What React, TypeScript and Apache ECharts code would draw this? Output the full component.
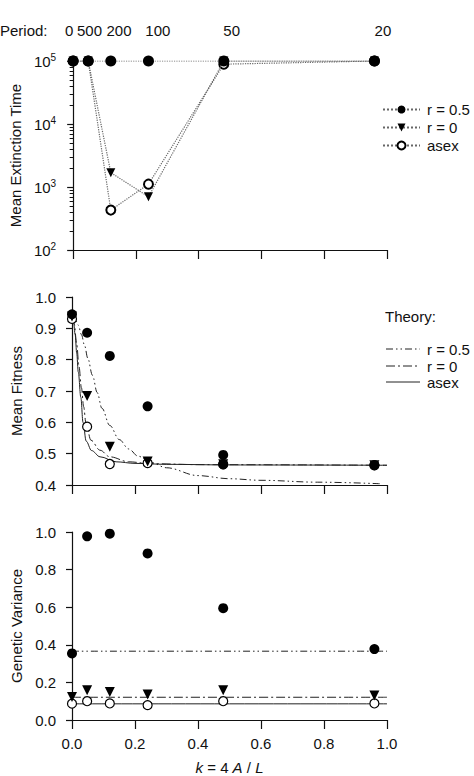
import React, { useEffect, useRef } from "react";
import * as echarts from "echarts";

const FONT = "Arial, 'Liberation Sans', Helvetica, sans-serif";

// x positions of simulations (k = 4A/L)
const kValues = [0, 0.048, 0.12, 0.24, 0.48, 0.96];

// top "Period" axis labels (first label sits at the left edge, the rest follow)
const periodFirstLabel = ["0"];
const periodFirstK = [0];
const periodLabels = ["500", "200", "100", "50", "20"];
const periodLabelK = [0.052, 0.146, 0.27, 0.505, 0.987];

// log axis ticks
const logMajor = [100, 1000, 10000, 100000];
const logMinor = [
  200, 300, 400, 500, 600, 700, 800, 900,
  2000, 3000, 4000, 5000, 6000, 7000, 8000, 9000,
  20000, 30000, 40000, 50000, 60000, 70000, 80000, 90000,
];

// Panel 1: mean extinction time
const extR05 = [100000, 100000, 100000, 100000, 100000, 100000];
const extR0 = [100000, 100000, 1690, 700, 100000, 100000];
const extAsex = [100000, 100000, 430, 1110, 89000, 100000];

// Panel 2: mean fitness (simulation)
const fitR05K = [0, 0.048, 0.12, 0.24, 0.48, 0.48, 0.96];
const fitR05 = [0.945, 0.886, 0.812, 0.651, 0.496, 0.466, 0.463];
const fitR0 = [0.938, 0.684, 0.522, 0.475, 0.466, 0.463];
const fitAsex = [0.93, 0.586, 0.467, 0.47, 0.466, 0.463];

// Panel 2: theory curves
const thR05K = [0, 0.01, 0.02, 0.03, 0.04, 0.05, 0.065, 0.08, 0.095, 0.12, 0.15, 0.18, 0.21, 0.25, 0.3, 0.4, 0.5, 0.6, 0.78, 0.98];
const thR05 = [0.936, 0.93, 0.91, 0.88, 0.845, 0.805, 0.75, 0.695, 0.645, 0.59, 0.545, 0.515, 0.492, 0.472, 0.455, 0.43, 0.42, 0.415, 0.409, 0.404];
const thR0K = [0, 0.007, 0.015, 0.022, 0.03, 0.037, 0.044, 0.06, 0.089, 0.12, 0.18, 0.25, 0.4, 1.0];
const thR0 = [0.936, 0.915, 0.85, 0.78, 0.71, 0.65, 0.6, 0.543, 0.511, 0.49, 0.474, 0.468, 0.465, 0.463];
const thAsexK = [0, 0.005, 0.01, 0.015, 0.02, 0.028, 0.035, 0.045, 0.062, 0.089, 0.14, 0.2, 0.3, 0.5, 1.0];
const thAsex = [0.936, 0.92, 0.88, 0.82, 0.76, 0.68, 0.6, 0.54, 0.51, 0.49, 0.474, 0.469, 0.466, 0.464, 0.463];

// Panel 3: genetic variance (simulation)
const varR05 = [0.354, 0.977, 0.991, 0.886, 0.595, 0.377];
const varR0 = [0.123, 0.158, 0.149, 0.135, 0.158, 0.13];
const varAsex = [0.087, 0.1, 0.088, 0.079, 0.1, 0.088];

// Panel 3: theory levels
const thVarK = [0, 1.0];
const thVarR05 = [0.366, 0.366];
const thVarR0 = [0.121, 0.121];
const thVarAsex = [0.086, 0.086];

const R05_DASH = [7, 3, 1.5, 3, 1.5, 3];
const R0_DASH = [9, 3, 2, 3];

const pairs = (xs: number[], ys: number[]) => xs.map((x, i) => [x, ys[i]]);

const INK = "#111";
const axisLine = { show: true, onZero: false, lineStyle: { color: INK, width: 1.2 } };
const noSplit = { show: false };

function buildOption() {
  const xBottom = (gridIndex: number, withLabels: boolean) => ({
    gridIndex,
    type: "value",
    min: 0,
    max: 1,
    interval: 0.2,
    position: "bottom",
    axisLine,
    axisTick: { show: true, inside: false, length: 9, lineStyle: { color: INK, width: 1.2 } },
    axisLabel: withLabels
      ? { show: true, margin: 16, fontSize: 15, color: INK, fontFamily: FONT, formatter: (v: number) => v.toFixed(1) }
      : { show: false },
    splitLine: noSplit,
  });

  const topLabelAxis = (values: number[], labels: string[], rich?: boolean) => ({
    gridIndex: 0,
    type: "value",
    min: 0,
    max: 1,
    position: "top",
    axisLine: { show: false },
    axisTick: { show: false },
    axisLabel: {
      show: true,
      customValues: values,
      showMinLabel: true,
      showMaxLabel: true,
      margin: 23,
      fontSize: 15,
      color: INK,
      fontFamily: FONT,
      formatter: (v: number, i: number) => {
        const j = values.indexOf(v);
        const t = labels[j >= 0 ? j : i] ?? "";
        return rich ? "{z|" + t + "}" : t;
      },
      rich: { z: { fontSize: 15, color: INK, fontFamily: FONT, padding: [0, 8, 0, 0] } },
    },
    splitLine: noSplit,
  });

  const marker = {
    r05: { symbol: "circle", symbolSize: 10, itemStyle: { color: "#000", opacity: 1 } },
    r0: { symbol: "triangle", symbolRotate: 180, symbolSize: 10, itemStyle: { color: "#000", opacity: 1 } },
    asex: { symbol: "emptyCircle", symbolSize: 9, itemStyle: { color: "#000", borderWidth: 1.2, opacity: 1 } },
  };
  const scatterOpen = {
    symbol: "circle",
    symbolSize: 9,
    itemStyle: { color: "#fff", borderColor: "#000", borderWidth: 1.2, opacity: 1 },
  };

  const dotted = { type: "dotted", color: "#666", width: 1.2 };

  const theoryLine = (name: string, xi: number, yi: number, xs: number[], ys: number[], dash: any) => ({
    type: "line",
    name,
    xAxisIndex: xi,
    yAxisIndex: yi,
    data: pairs(xs, ys),
    symbol: "none",
    smooth: 0.35,
    smoothMonotone: "x",
    z: 1,
    lineStyle: { color: "#222", width: 1, type: dash },
  });

  return {
    animation: false,
    backgroundColor: "#fff",
    textStyle: { fontFamily: FONT },
    grid: [
      { left: 72, top: 61, width: 315, height: 189 },
      { left: 72, top: 297, width: 315, height: 188 },
      { left: 72, top: 532, width: 315, height: 190 },
    ],
    xAxis: [
      xBottom(0, false),
      topLabelAxis(periodLabelK, periodLabels),
      xBottom(1, false),
      {
        ...xBottom(2, true),
        name: "{i|k} = 4 {i|A} / {i|L}",
        nameLocation: "middle",
        nameGap: 40,
        nameTextStyle: {
          fontSize: 15,
          color: INK,
          fontFamily: FONT,
          rich: { i: { fontStyle: "italic", fontSize: 15, color: INK, fontFamily: FONT } },
        },
      },
      topLabelAxis(periodFirstK, periodFirstLabel, true),
    ],
    yAxis: [
      {
        gridIndex: 0,
        type: "log",
        logBase: 10,
        min: 100,
        max: 100000,
        position: "left",
        axisLine,
        axisTick: { show: true, length: 6, customValues: logMajor, lineStyle: { color: INK, width: 1.2 } },
        axisLabel: {
          show: true,
          customValues: logMajor,
          margin: 17,
          color: INK,
          fontFamily: FONT,
          formatter: (v: number) => "{b|10}{s|" + Math.round(Math.log10(v)) + "}",
          rich: {
            b: { fontSize: 15, color: INK, fontFamily: FONT },
            s: { fontSize: 10, color: INK, fontFamily: FONT, verticalAlign: "top", padding: [0, 0, 7, 0] },
          },
        },
        name: "Mean Extinction Time",
        nameLocation: "middle",
        nameGap: 46,
        nameTextStyle: { fontSize: 15, color: INK, fontFamily: FONT },
        splitLine: noSplit,
      },
      {
        gridIndex: 0,
        type: "log",
        logBase: 10,
        min: 100,
        max: 100000,
        position: "left",
        axisLine: { show: false },
        axisTick: { show: true, length: 3.5, customValues: logMinor, lineStyle: { color: INK, width: 1 } },
        axisLabel: { show: false },
        splitLine: noSplit,
      },
      {
        gridIndex: 1,
        type: "value",
        min: 0.4,
        max: 1.0,
        interval: 0.1,
        position: "left",
        axisLine,
        axisTick: { show: true, length: 6, lineStyle: { color: INK, width: 1.2 } },
        axisLabel: { show: true, margin: 16, fontSize: 15, color: INK, fontFamily: FONT, formatter: (v: number) => v.toFixed(1) },
        name: "Mean Fitness",
        nameLocation: "middle",
        nameGap: 46,
        nameTextStyle: { fontSize: 15, color: INK, fontFamily: FONT },
        splitLine: noSplit,
      },
      {
        gridIndex: 2,
        type: "value",
        min: 0,
        max: 1.0,
        interval: 0.2,
        position: "left",
        axisLine,
        axisTick: { show: true, length: 6, lineStyle: { color: INK, width: 1.2 } },
        axisLabel: { show: true, margin: 16, fontSize: 15, color: INK, fontFamily: FONT, formatter: (v: number) => v.toFixed(1) },
        name: "Genetic Variance",
        nameLocation: "middle",
        nameGap: 46,
        nameTextStyle: { fontSize: 15, color: INK, fontFamily: FONT },
        splitLine: noSplit,
      },
    ],
    legend: [
      {
        data: ["r = 0.5", "r = 0", "asex"],
        orient: "vertical",
        left: 377,
        top: 97,
        itemWidth: 37,
        itemHeight: 10,
        itemGap: 3,
        selectedMode: false,
        textStyle: { fontSize: 15, color: INK, fontFamily: FONT, padding: [0, 0, 0, 2] },
      },
    ],
    graphic: [
      {
        type: "text",
        x: 0,
        y: 30,
        style: { text: "Period:", fontSize: 15, fill: INK, fontFamily: FONT, verticalAlign: "middle" },
      },
      {
        type: "text",
        x: 385,
        y: 316,
        style: { text: "Theory:", fontSize: 15, fill: INK, fontFamily: FONT, verticalAlign: "middle" },
      },
      { type: "line", shape: { x1: 386, y1: 349, x2: 420, y2: 349 }, style: { stroke: "#222", lineWidth: 1, lineDash: R05_DASH } },
      { type: "text", x: 427, y: 349, style: { text: "r = 0.5", fontSize: 15, fill: INK, fontFamily: FONT, verticalAlign: "middle" } },
      { type: "line", shape: { x1: 386, y1: 366, x2: 420, y2: 366 }, style: { stroke: "#222", lineWidth: 1, lineDash: R0_DASH } },
      { type: "text", x: 427, y: 366, style: { text: "r = 0", fontSize: 15, fill: INK, fontFamily: FONT, verticalAlign: "middle" } },
      { type: "line", shape: { x1: 386, y1: 382, x2: 420, y2: 382 }, style: { stroke: "#222", lineWidth: 1 } },
      { type: "text", x: 427, y: 382, style: { text: "asex", fontSize: 15, fill: INK, fontFamily: FONT, verticalAlign: "middle" } },
    ],
    series: [
      // Panel 1
      { type: "line", name: "asex", xAxisIndex: 0, yAxisIndex: 0, data: pairs(kValues, extAsex), ...marker.asex, lineStyle: dotted, z: 2 },
      { type: "line", name: "r = 0", xAxisIndex: 0, yAxisIndex: 0, data: pairs(kValues, extR0), ...marker.r0, symbolSize: 9, lineStyle: dotted, z: 3 },
      { type: "line", name: "r = 0.5", xAxisIndex: 0, yAxisIndex: 0, data: pairs(kValues, extR05), ...marker.r05, symbolSize: 11, lineStyle: dotted, z: 4 },
      // Panel 2 theory
      theoryLine("T r = 0.5", 2, 2, thR05K, thR05, R05_DASH),
      theoryLine("T r = 0", 2, 2, thR0K, thR0, R0_DASH),
      theoryLine("T asex", 2, 2, thAsexK, thAsex, "solid"),
      // Panel 2 simulation
      { type: "scatter", name: "asex", xAxisIndex: 2, yAxisIndex: 2, data: pairs(kValues, fitAsex), ...scatterOpen, z: 3 },
      { type: "scatter", name: "r = 0", xAxisIndex: 2, yAxisIndex: 2, data: pairs(kValues, fitR0), ...marker.r0, z: 4 },
      { type: "scatter", name: "r = 0.5", xAxisIndex: 2, yAxisIndex: 2, data: pairs(fitR05K, fitR05), ...marker.r05, z: 5 },
      // Panel 3 theory
      theoryLine("T r = 0.5", 3, 3, thVarK, thVarR05, R05_DASH),
      theoryLine("T r = 0", 3, 3, thVarK, thVarR0, R0_DASH),
      theoryLine("T asex", 3, 3, thVarK, thVarAsex, "solid"),
      // Panel 3 simulation
      { type: "scatter", name: "asex", xAxisIndex: 3, yAxisIndex: 3, data: pairs(kValues, varAsex), ...scatterOpen, z: 3 },
      { type: "scatter", name: "r = 0", xAxisIndex: 3, yAxisIndex: 3, data: pairs(kValues, varR0), ...marker.r0, z: 4 },
      { type: "scatter", name: "r = 0.5", xAxisIndex: 3, yAxisIndex: 3, data: pairs(kValues, varR05), ...marker.r05, z: 5 },
    ],
  };
}

export default function App() {
  const ref = useRef<HTMLDivElement>(null);
  useEffect(() => {
    if (!ref.current) return;
    const chart = echarts.init(ref.current, null, { renderer: "svg" });
    chart.setOption(buildOption() as any);
    return () => chart.dispose();
  }, []);
  return (
    <div
      ref={ref}
      style={{ position: "fixed", left: 0, top: 0, width: 474, height: 776, background: "#fff" }}
    />
  );
}
